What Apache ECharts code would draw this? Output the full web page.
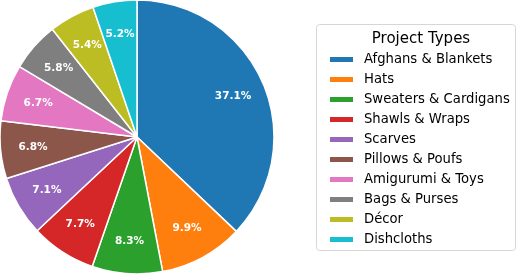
<!DOCTYPE html>
<html><head><meta charset="utf-8">
<script src="https://cdn.jsdelivr.net/npm/echarts@6/dist/echarts.min.js"></script>
<style>html,body{margin:0;padding:0;background:#fff}#c{width:518px;height:274px}</style>
</head><body><div id="c"></div>
<script>
const categories = ["Afghans & Blankets","Hats","Sweaters & Cardigans","Shawls & Wraps","Scarves","Pillows & Poufs","Amigurumi & Toys","Bags & Purses","Décor","Dishcloths"];
const shares = [37.1, 9.9, 8.3, 7.7, 7.1, 6.8, 6.7, 5.8, 5.4, 5.2];
const colors = ["#1f77b4","#ff7f0e","#2ca02c","#d62728","#9467bd","#8c564b","#e377c2","#7f7f7f","#bcbd22","#17becf"];
const legendTitle = "Project Types";

const data = categories.map((n,i)=>({name:n, value:shares[i]}));
const font = "DejaVu Sans";
const chart = echarts.init(document.getElementById('c'), null, {renderer:'canvas'});
chart.setOption({
  animation:false,
  color: colors,
  title:{text:legendTitle, left:416, top:27, textAlign:'center',
    textStyle:{fontFamily:font, fontSize:15, fontWeight:'normal', color:'#000'}},
  graphic:[{type:'rect', shape:{x:316.5, y:24.5, width:199, height:226, r:3},
    style:{fill:'rgba(255,255,255,0.8)', stroke:'#d6d6d6', lineWidth:1}, z:-1}],
  legend:{orient:'vertical', left:323, top:47, itemWidth:25, itemHeight:7, itemGap:5,
    icon:'rect', selectedMode:false,
    textStyle:{fontFamily:font, fontSize:13.2, color:'#000', lineHeight:15, padding:[0,0,0,5]},
    data: categories},
  series:[
    {type:'pie', center:[137,137], radius:[0,137], startAngle:90, clockwise:true,
     data:data, label:{show:false}, labelLine:{show:false}, emphasis:{disabled:true},
     itemStyle:{borderColor:'#fff', borderWidth:1.5}},
    {type:'pie', center:[137,137], radius:[66,137], startAngle:90, clockwise:true,
     data:data, silent:true, legendHoverLink:false,
     itemStyle:{color:'rgba(0,0,0,0)', borderWidth:0},
     label:{show:true, position:'inside', formatter:p=>p.value.toFixed(1)+'%',
       fontFamily:font, fontSize:10.5, fontWeight:'bold', color:'#fff'},
     labelLine:{show:false}, emphasis:{disabled:true}}
  ]
});
</script></body></html>
